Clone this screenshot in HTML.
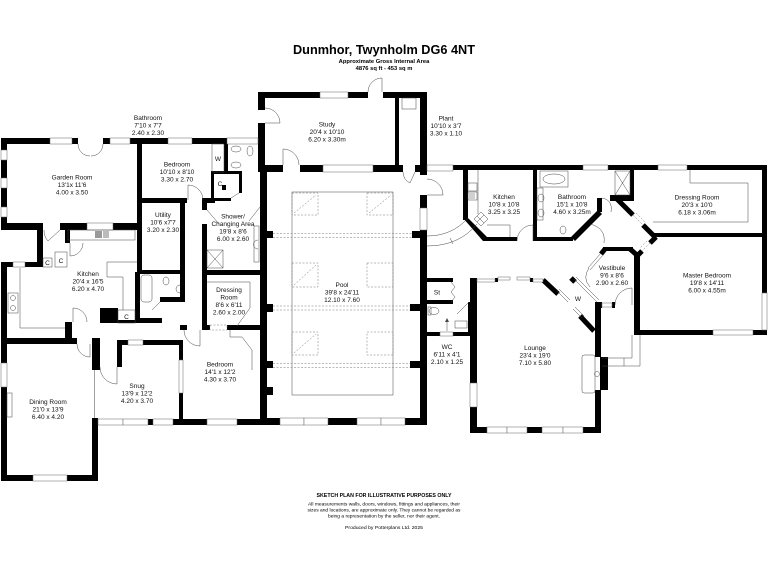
<!DOCTYPE html>
<html><head><meta charset="utf-8"><style>
html,body{margin:0;padding:0;background:#fff;}
svg{display:block}
.k{fill:#000}
.wn{fill:#fff;stroke:#666;stroke-width:.5}
.t{fill:none;stroke:#444;stroke-width:.5}
.ds{fill:none;stroke:#777;stroke-width:.5;stroke-dasharray:2 1.5}
.l{font-size:6.5px;text-anchor:middle;fill:#111}
.th{stroke:#000;stroke-width:5;fill:none}
</style></head><body>
<svg width="768" height="576" viewBox="0 0 768 576" xmlns="http://www.w3.org/2000/svg" font-family="'Liberation Sans', Arial, sans-serif">
<rect width="768" height="576" fill="#fff"/>

<!-- Title -->
<text x="384" y="54" font-size="12.6" font-weight="bold" text-anchor="middle" textLength="182" lengthAdjust="spacingAndGlyphs">Dunmhor, Twynholm DG6 4NT</text>
<text x="384" y="63" font-size="5.8" font-weight="bold" text-anchor="middle">Approximate Gross Internal Area</text>
<text x="384" y="70" font-size="5.8" font-weight="bold" text-anchor="middle">4876 sq ft - 453 sq m</text>

<!-- ===== WALLS ===== -->
<g class="k">
<!-- top-left block -->
<rect x="1" y="138" width="49" height="6"/>
<rect x="72" y="138" width="6" height="6"/>
<rect x="103" y="138" width="7" height="6"/>
<rect x="130" y="138" width="38" height="6"/>
<rect x="192" y="138" width="35" height="6"/>
<rect x="1" y="138" width="6" height="92"/>
<rect x="1" y="223" width="42" height="7"/>
<rect x="60" y="223" width="27" height="7"/>
<rect x="113" y="223" width="29" height="7"/>
<rect x="137" y="138" width="5" height="134"/>
<rect x="37" y="230" width="6" height="37"/>
<rect x="65" y="230" width="5" height="13"/>
<rect x="1" y="262" width="12" height="5"/>
<rect x="25" y="262" width="18" height="5"/>
<rect x="1" y="262" width="6" height="219"/>
<rect x="142" y="198" width="45" height="5"/>
<rect x="203" y="198" width="12" height="5"/>
<rect x="224" y="144" width="4" height="28"/>
<rect x="211" y="171" width="31" height="3"/>
<rect x="211" y="171" width="3" height="31"/>
<rect x="239" y="171" width="3" height="22"/>
<rect x="211" y="198" width="20" height="3"/>
<rect x="222" y="185" width="4" height="5"/>
<rect x="180" y="200" width="5" height="102"/>
<rect x="137" y="270" width="48" height="4"/>
<rect x="160" y="297" width="25" height="5"/>
<rect x="135" y="272" width="5" height="51"/>
<rect x="135" y="318" width="27" height="5"/>
<rect x="65" y="322" width="7" height="22"/>
<rect x="100" y="308" width="18" height="15"/>
<rect x="118" y="320" width="17" height="3"/>
<rect x="202" y="198" width="5" height="12"/>
<rect x="202" y="224" width="5" height="106"/>
<rect x="202" y="270" width="61" height="5"/>
<rect x="180" y="325" width="7" height="5"/>
<rect x="202" y="325" width="8" height="5"/>
<rect x="227" y="325" width="36" height="5"/>
<rect x="92" y="338" width="8" height="32"/>
<rect x="1" y="338" width="76" height="6"/>
<rect x="117" y="340" width="11" height="5"/>
<rect x="143" y="340" width="40" height="5"/>
<rect x="117" y="340" width="5" height="27"/>
<rect x="92" y="418" width="6" height="63"/>
<rect x="1" y="475" width="32" height="6"/>
<rect x="67" y="475" width="31" height="6"/>
<rect x="148" y="419" width="5" height="6"/>
<rect x="173" y="419" width="10" height="6"/>
<rect x="179" y="340" width="4" height="20"/>
<rect x="179" y="393" width="4" height="32"/>
<rect x="183" y="419" width="24" height="6"/>
<rect x="237" y="419" width="26" height="6"/>

<!-- study / pool -->
<rect x="258" y="92" width="62" height="6"/>
<rect x="348" y="92" width="20" height="6"/>
<rect x="383" y="92" width="44" height="6"/>
<rect x="258" y="92" width="7" height="18"/>
<rect x="258" y="123" width="7" height="49"/>
<rect x="258" y="165" width="25" height="7"/>
<rect x="300" y="165" width="23" height="7"/>
<rect x="373" y="165" width="30" height="7"/>
<rect x="415" y="165" width="12" height="7"/>
<rect x="395" y="98" width="4" height="67"/>
<rect x="420" y="92" width="7" height="83"/>
<rect x="420" y="195" width="7" height="13"/>
<rect x="420" y="230" width="7" height="195"/>
<rect x="260" y="165" width="7" height="260"/>
<rect x="260" y="418" width="20" height="7"/>
<rect x="328" y="418" width="29" height="7"/>
<rect x="405" y="418" width="22" height="7"/>
<rect x="265" y="231" width="8" height="7"/>
<rect x="265" y="304" width="8" height="8"/>
<rect x="265" y="361" width="8" height="7"/>
<rect x="265" y="387" width="8" height="8"/>
<rect x="412" y="231" width="8" height="7"/>
<rect x="410" y="304" width="10" height="7"/>
<rect x="410" y="361" width="10" height="7"/>

<!-- right block -->
<rect x="453" y="165" width="130" height="5"/>
<rect x="608" y="165" width="50" height="5"/>
<rect x="687" y="165" width="80" height="5"/>
<rect x="463" y="165" width="5" height="55"/>
<polygon points="463,218 468,218 488,238 483,241"/>
<rect x="483" y="237" width="34" height="4"/>
<rect x="533" y="237" width="40" height="4"/>
<rect x="533" y="165" width="4" height="76"/>
<polygon points="571,237 598,210 602,214 575,241"/>
<rect x="597" y="198" width="5" height="14"/>
<rect x="610" y="195" width="24" height="6"/>
<rect x="630" y="165" width="4" height="36"/>
<rect x="652" y="233" width="115" height="4"/>
<rect x="603" y="247" width="30" height="4"/>
<rect x="634" y="252" width="6" height="83"/>
<rect x="762" y="165" width="5" height="128"/>
<rect x="762" y="330" width="5" height="5"/>
<rect x="634" y="330" width="79" height="5"/>
<rect x="753" y="330" width="14" height="5"/>

<!-- lounge -->
<rect x="470" y="278" width="7" height="105"/>
<rect x="470" y="407" width="7" height="26"/>
<rect x="495" y="278" width="3" height="4"/>
<rect x="530" y="278" width="3" height="4"/>
<rect x="595" y="302" width="6" height="55"/>
<rect x="600" y="357" width="8" height="33"/>
<rect x="595" y="390" width="6" height="43"/>
<rect x="470" y="427" width="17" height="6"/>
<rect x="527" y="427" width="15" height="6"/>
<rect x="583" y="427" width="18" height="6"/>
<rect x="595" y="302" width="7" height="6"/>
<rect x="612" y="302" width="3" height="6"/>

<!-- WC / St -->
<rect x="427" y="278" width="26" height="4"/>
<rect x="427" y="300" width="26" height="4"/>
<rect x="468" y="302" width="5" height="34"/>
<rect x="427" y="332" width="13" height="4"/>
<rect x="453" y="332" width="20" height="4"/>
</g>

<!-- thick diagonal walls -->
<g class="th">
<line x1="617" y1="199" x2="633" y2="215"/>
<line x1="643" y1="225" x2="656" y2="238"/>
<line x1="656" y1="237" x2="650" y2="243"/>
<line x1="642" y1="251" x2="637" y2="256"/>
<line x1="630" y1="249" x2="638" y2="256"/>
<line x1="605" y1="249" x2="601" y2="254"/>
<line x1="543" y1="280" x2="558" y2="294"/>
<line x1="580" y1="316" x2="594" y2="331"/>
<line x1="571" y1="278" x2="575" y2="282"/>
</g>

<!-- ===== WINDOWS ===== -->
<g class="wn">
<rect x="50" y="138" width="22" height="6"/>
<rect x="110" y="138" width="20" height="6"/>
<rect x="168" y="138" width="24" height="6"/>
<rect x="227" y="138" width="31" height="6"/>
<rect x="1" y="150" width="6" height="10"/>
<rect x="1" y="178" width="6" height="10"/>
<rect x="1" y="207" width="6" height="10"/>
<rect x="87" y="223" width="26" height="7"/>
<rect x="13" y="262" width="12" height="5"/>
<rect x="1" y="363" width="6" height="24"/>
<rect x="33" y="475" width="34" height="6"/>
<rect x="128" y="340" width="15" height="5"/>
<rect x="98" y="419" width="25" height="6"/>
<rect x="123" y="419" width="25" height="6"/>
<rect x="153" y="419" width="20" height="6"/>
<rect x="179" y="360" width="4" height="33"/>
<rect x="207" y="419" width="30" height="6"/>
<rect x="320" y="92" width="28" height="6"/>
<rect x="323" y="165" width="50" height="7"/>
<rect x="420" y="208" width="7" height="22"/>
<rect x="280" y="418" width="24" height="7"/>
<rect x="304" y="418" width="24" height="7"/>
<rect x="357" y="418" width="24" height="7"/>
<rect x="381" y="418" width="24" height="7"/>
<rect x="427" y="165" width="26" height="6"/>
<rect x="583" y="165" width="25" height="5"/>
<rect x="658" y="165" width="29" height="5"/>
<rect x="762" y="293" width="5" height="37"/>
<rect x="713" y="330" width="40" height="5"/>
<rect x="470" y="383" width="7" height="24"/>
<rect x="487" y="427" width="20" height="6"/>
<rect x="507" y="427" width="20" height="6"/>
<rect x="542" y="427" width="21" height="6"/>
<rect x="563" y="427" width="20" height="6"/>
<rect x="477" y="279" width="18" height="3"/>
<rect x="498" y="277" width="12" height="3"/>
<rect x="517" y="277" width="13" height="3"/>
<rect x="533" y="279" width="10" height="3"/>
<rect x="602" y="303" width="10" height="4"/>
<rect x="440" y="332" width="13" height="4"/>
</g>

<!-- dashed doors -->
<g class="ds">
<rect x="210" y="325" width="17" height="5"/>
<line x1="633" y1="215" x2="643" y2="225"/>
<line x1="636" y1="213" x2="646" y2="223"/>
<line x1="650" y1="243" x2="642" y2="251"/>
<line x1="647" y1="241" x2="640" y2="248"/>
</g>

<!-- ===== POOL ===== -->
<rect class="t" x="292" y="192" width="101" height="203"/>
<g class="ds">
<line x1="273" y1="233.5" x2="412" y2="233.5"/>
<line x1="273" y1="237.5" x2="412" y2="237.5"/>
<line x1="273" y1="306" x2="410" y2="306"/>
<line x1="273" y1="310" x2="410" y2="310"/>
<line x1="273" y1="363.5" x2="410" y2="363.5"/>
<line x1="273" y1="367.5" x2="410" y2="367.5"/>
<rect x="292" y="193" width="26" height="22"/>
<rect x="367" y="193" width="26" height="22"/>
<rect x="292" y="263" width="26" height="24"/>
<rect x="367" y="263" width="26" height="24"/>
<rect x="292" y="332" width="26" height="23"/>
<rect x="367" y="332" width="26" height="23"/>
<line x1="294" y1="213" x2="316" y2="195"/>
<line x1="369" y1="213" x2="391" y2="195"/>
<line x1="294" y1="285" x2="316" y2="265"/>
<line x1="294" y1="353" x2="316" y2="334"/>
</g>

<!-- ===== THIN DETAILS ===== -->
<g class="t">
<!-- doors -->
<path d="M78,144 A12,12 0 0 0 90,156"/>
<path d="M103,144 A12,12 0 0 1 91,156"/>
<path d="M382,92 L382,78 A14,14 0 0 0 368,92"/>
<path d="M265,123 L280,123 A15,15 0 0 0 265,108"/>
<path d="M283,165 L283,149 A16,16 0 0 1 299,165"/>
<path d="M415,172 L410,183 A12,12 0 0 1 403,172"/>
<path d="M427,195 L443,195 A16,16 0 0 0 427,179"/>
<path d="M188,200 L188,185 A15,15 0 0 1 203,200"/>
<path d="M200,330 L200,346 A16,16 0 0 1 184,330"/>
<path d="M73,322 L73,308 A14,14 0 0 1 87,322"/>
<path d="M90,344 L90,357 A13,13 0 0 1 77,344"/>
<path d="M117,367 L117,384 A17,17 0 0 1 100,367"/>
<path d="M60,230 L48,241 A16,16 0 0 1 44,230"/>
<path d="M70,243 L70,256 A13,13 0 0 0 83,243"/>
<path d="M533,241 L533,225 A16,16 0 0 0 517,241"/>
<path d="M590,224 Q606,228 604,243"/>
<path d="M602,198 Q613,200 611,212"/>
<path d="M632,305 L632,288 A17,17 0 0 0 615,305"/>
<path d="M589,268 Q582,278 590,287"/>
<!-- glazed diagonals -->
<line x1="601" y1="253" x2="588" y2="268"/>
<line x1="603" y1="255" x2="590" y2="270"/>
<line x1="574" y1="279" x2="597" y2="302"/>
<line x1="576" y1="277" x2="599" y2="300"/>
<line x1="557" y1="291" x2="568" y2="302"/>
<line x1="559" y1="289" x2="570" y2="300"/>
<line x1="573" y1="309" x2="582" y2="318"/>
<line x1="575" y1="307" x2="584" y2="316"/>
<!-- curved corridor wall -->
<path d="M427,236 Q452,236 468,218"/>
<path d="M427,246 Q459,246 477,224"/>
<line x1="450" y1="238" x2="453" y2="244"/>
<!-- kitchen right -->
<rect x="468" y="183" width="9" height="8"/>
<rect x="468" y="192" width="9" height="8"/>
<line x1="470" y1="193" x2="470" y2="199"/><line x1="472" y1="193" x2="472" y2="199"/><line x1="474" y1="193" x2="474" y2="199"/>
<polygon points="481,212 488,219 481,226 474,219"/>
<line x1="477" y1="216" x2="484" y2="223"/><line x1="484" y1="215" x2="477" y2="222"/>
<polyline points="478,170 478,214"/>
<polyline points="487,225 510,225 510,237"/>
<!-- bathroom right -->
<rect x="540" y="171" width="28" height="16"/>
<ellipse cx="554" cy="179" rx="11" ry="5"/>
<rect x="537" y="188" width="6" height="32"/>
<ellipse cx="541" cy="198" rx="3" ry="4"/>
<ellipse cx="541" cy="213" rx="3" ry="4"/>
<ellipse cx="563" cy="230" rx="3" ry="4"/>
<rect x="615" y="171" width="15" height="24"/>
<line x1="615" y1="171" x2="630" y2="195"/><line x1="630" y1="171" x2="615" y2="195"/>
<polyline points="690,170 690,183 748,183 748,222 653,222"/>
<!-- lounge -->
<rect x="582" y="355" width="13" height="38" rx="2"/>
<circle cx="597" cy="374" r="2.5"/>
<polyline points="602,358 632,358 632,335"/>
<polyline points="602,366 640,366 640,335"/>
<line x1="624" y1="358" x2="624" y2="366"/>
<!-- WC / St -->
<ellipse cx="434" cy="311" rx="5" ry="3.5"/>
<rect x="428" y="307" width="3" height="8"/>
<rect x="455" y="321" width="12" height="7"/>
<line x1="447" y1="331" x2="447" y2="321"/>
<polyline points="451,282 455,287 451,292 455,297 451,302"/>
<line x1="457" y1="314" x2="469" y2="302"/>
<!-- left kitchen -->
<rect x="68" y="230" width="67" height="10"/>
<polyline points="20,268 20,328 65,328"/>
<rect x="8" y="293" width="10" height="20"/>
<circle cx="13" cy="298" r="2.5"/>
<circle cx="13" cy="308" r="2.5"/>
<polyline points="107,262 137,262"/>
<polyline points="107,262 107,277 123,277 123,310"/>
<rect x="43" y="258" width="9" height="9"/>
<rect x="55" y="252" width="12" height="15"/>
<rect x="118" y="310" width="17" height="13"/>
<!-- small bath -->
<rect x="141" y="275" width="11" height="27" rx="3"/>
<ellipse cx="166" cy="281" rx="3" ry="4"/>
<path d="M180,285 A4,4 0 0 0 180,293"/>
<line x1="152" y1="310" x2="160" y2="302"/>
<!-- upper bath -->
<ellipse cx="236" cy="149" rx="5" ry="3"/>
<ellipse cx="250" cy="151" rx="3" ry="5"/>
<ellipse cx="236" cy="165" rx="5" ry="3"/>
<rect x="212" y="144" width="12" height="28"/>
<line x1="231" y1="198" x2="239" y2="193"/>
<!-- shower / changing -->
<rect x="207" y="250" width="16" height="18"/>
<line x1="207" y1="250" x2="223" y2="268"/><line x1="223" y1="250" x2="207" y2="268"/>
<rect x="254" y="226" width="5" height="36"/>
<path d="M258,240 A4,4 0 0 0 258,249"/>
<line x1="207" y1="210" x2="219" y2="224"/>
<line x1="260" y1="207" x2="249" y2="221"/>
<polyline points="207,282 250,282 250,308 237,326"/>
<polyline points="230,330 230,337 242,337 252,350 252,370"/>
<line x1="94.5" y1="370" x2="94.5" y2="418"/>
<rect x="7" y="393" width="5" height="24"/>
<rect x="402" y="98" width="14" height="11"/>
</g>
<rect x="95" y="231" width="7" height="7" fill="#999"/>
<rect x="103" y="231" width="6" height="7" fill="#bbb"/>
<polygon points="447,318 445,322 449,322" fill="#444"/>

<!-- ===== LABELS ===== -->
<g class="l">
<text x="148" y="120">Bathroom</text><text x="148" y="127.5">7'10 x 7'7</text><text x="148" y="135">2.40 x 2.30</text>
<text x="72" y="179.5">Garden Room</text><text x="72" y="187">13'1x 11'6</text><text x="72" y="194.5">4.00 x 3.50</text>
<text x="177" y="166.5">Bedroom</text><text x="177" y="174">10'10 x 8'10</text><text x="177" y="181.5">3.30 x 2.70</text>
<text x="163" y="217">Utility</text><text x="163" y="224.5">10'6 x7'7</text><text x="163" y="232">3.20 x 2.30</text>
<text x="233" y="218.5">Shower/</text><text x="233" y="226">Changing Area</text><text x="233" y="233.5">19'8 x 8'6</text><text x="233" y="241">6.00 x 2.60</text>
<text x="88" y="276">Kitchen</text><text x="88" y="283.5">20'4 x 16'5</text><text x="88" y="291">6.20 x 4.70</text>
<text x="48" y="404">Dining Room</text><text x="48" y="411.5">21'0 x 13'9</text><text x="48" y="419">6.40 x 4.20</text>
<text x="137" y="388">Snug</text><text x="137" y="395.5">13'9 x 12'2</text><text x="137" y="403">4.20 x 3.70</text>
<text x="220" y="366.5">Bedroom</text><text x="220" y="374">14'1 x 12'2</text><text x="220" y="381.5">4.30 x 3.70</text>
<text x="229" y="292">Dressing</text><text x="229" y="299.5">Room</text><text x="229" y="307">8'6 x 6'11</text><text x="229" y="314.5">2.60 x 2.00</text>
<text x="327" y="126.5">Study</text><text x="327" y="134">20'4 x 10'10</text><text x="327" y="141.5">6.20 x 3.30m</text>
<text x="446" y="120.5">Plant</text><text x="446" y="128">10'10 x 3'7</text><text x="446" y="135.5">3.30 x 1.10</text>
<text x="342" y="287">Pool</text><text x="342" y="294.5">39'8 x 24'11</text><text x="342" y="302">12.10 x 7.60</text>
<text x="504" y="199">Kitchen</text><text x="504" y="206.5">10'8 x 10'8</text><text x="504" y="214">3.25 x 3.25</text>
<text x="572" y="199">Bathroom</text><text x="572" y="206.5">15'1 x 10'8</text><text x="572" y="214">4.60 x 3.25m</text>
<text x="697" y="199.5">Dressing Room</text><text x="697" y="207">20'3 x 10'0</text><text x="697" y="214.5">6.18 x 3.06m</text>
<text x="707" y="277.5">Master Bedroom</text><text x="707" y="285">19'8 x 14'11</text><text x="707" y="292.5">6.00 x 4.55m</text>
<text x="612" y="270">Vestibule</text><text x="612" y="277.5">9'6 x 8'6</text><text x="612" y="285">2.90 x 2.60</text>
<text x="437" y="294.5">St</text>
<text x="447" y="349">WC</text><text x="447" y="356.5">6'11 x 4'1</text><text x="447" y="364">2.10 x 1.25</text>
<text x="535" y="350">Lounge</text><text x="535" y="357.5">23'4 x 19'0</text><text x="535" y="365">7.10 x 5.80</text>
<text x="578" y="301">W</text>
<text x="218" y="161">W</text>
<text x="220" y="186">C</text>
<text x="47.5" y="265">C</text>
<text x="61" y="263">C</text>
<text x="126.5" y="319">C</text>
</g>

<!-- footer -->
<text x="384" y="497" font-size="5.2" font-weight="bold" text-anchor="middle" textLength="135" lengthAdjust="spacingAndGlyphs">SKETCH PLAN FOR ILLUSTRATIVE PURPOSES ONLY</text>
<text x="384" y="505.5" font-size="4.7" text-anchor="middle" textLength="152" lengthAdjust="spacingAndGlyphs">All measurements walls, doors, windows, fittings and appliances, their</text>
<text x="384" y="511.5" font-size="4.7" text-anchor="middle" textLength="153" lengthAdjust="spacingAndGlyphs">sizes and locations, are approximate only. They cannot be regarded as</text>
<text x="384" y="517.5" font-size="4.7" text-anchor="middle" textLength="112" lengthAdjust="spacingAndGlyphs">being a representation by the seller, nor their agent.</text>
<text x="384" y="529" font-size="4.7" text-anchor="middle" textLength="78" lengthAdjust="spacingAndGlyphs">Produced by Potterplans Ltd. 2025</text>
</svg>
</body></html>
